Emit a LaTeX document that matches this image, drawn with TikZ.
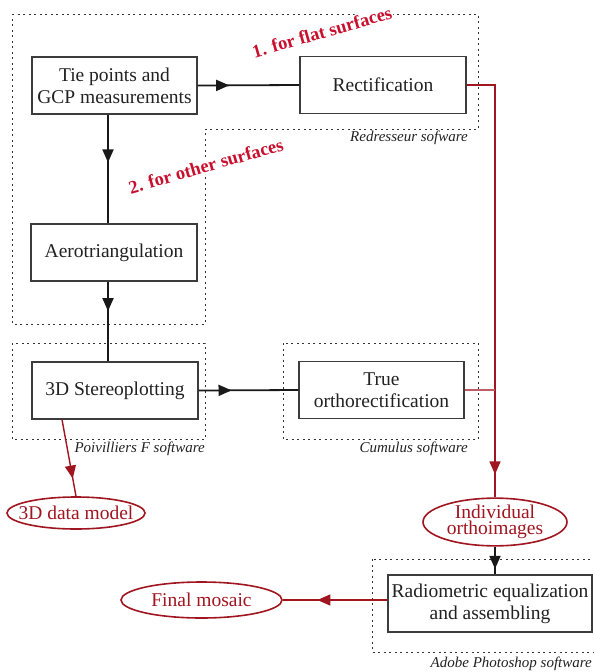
\documentclass[tikz,border=0pt]{standalone}
\usepackage{fontspec}
\setmainfont{Liberation Serif}
\usetikzlibrary{arrows.meta,decorations.markings,shapes.geometric}
\definecolor{dred}{RGB}{160,22,32}
\definecolor{lred}{RGB}{200,16,46}
\definecolor{txt}{RGB}{34,34,34}
\definecolor{bdr}{RGB}{60,60,60}
\begin{document}
\begin{tikzpicture}[x=1pt,y=-1pt,
  proc/.style={draw=bdr,line width=1.1pt,fill=white,text=txt,align=center,inner sep=0pt,
    font=\fontsize{19.5}{22}\selectfont},
  oval/.style={ellipse,draw=dred,line width=1.6pt,fill=white,text=dred,align=center,inner sep=0pt,
    font=\fontsize{19.5}{16}\selectfont},
  dotbox/.style={draw=black!80,line width=0.8pt,dash pattern=on 2pt off 3.5pt},
  swlabel/.style={font=\fontsize{15}{17}\selectfont\itshape,text=txt,inner sep=0pt},
  steplabel/.style={font=\fontsize{18.5}{20}\selectfont\bfseries,text=lred,fill=white,inner sep=1pt,rotate=16},
  blk/.style={line width=1.8pt,draw=black!90},
  redl/.style={line width=1.4pt,draw=dred},
  midarr/.style={postaction={decorate},decoration={markings,
    mark=at position #1 with {\arrow{Triangle[length=13pt,width=11pt]}}}}
]
\useasboundingbox (0,0) rectangle (594,672);
% dotted software boxes
\draw[dotbox] (12,14) -- (478,14) -- (478,129) -- (205,129) -- (205,324) -- (12,324) -- cycle;
\draw[dotbox] (12,343) rectangle (205,439);
\draw[dotbox] (283,343) rectangle (478,439);
\draw[dotbox] (372,559) rectangle (597,652);
% software labels
\node[swlabel,anchor=east] (lredr) at (468,138) {Redresseur sofware};
\node[swlabel,anchor=east] (lpoiv) at (205,449) {Poivilliers F software};
\node[swlabel,anchor=east] (lcumu) at (468,449) {Cumulus software};
\node[swlabel,anchor=east] (ladob) at (592,664) {Adobe Photoshop software};
% step labels
\node[steplabel] (s1) at (322,32) {1. for flat surfaces};
\node[steplabel] (s2) at (206,166) {2. for other surfaces};
% process boxes
\node[proc,minimum width=165pt,minimum height=57pt] (tie) at (114.5,85.5) {Tie points and\\GCP measurements};
\node[proc,minimum width=166pt,minimum height=57pt] (rect) at (383,85) {Rectification};
\node[proc,minimum width=166pt,minimum height=57pt] (aero) at (114,252.5) {Aerotriangulation};
\node[proc,minimum width=166pt,minimum height=57pt] (stereo) at (115,390.5) {3D Stereoplotting};
\node[proc,minimum width=165pt,minimum height=57pt] (true) at (381.5,390) {True\\orthorectification};
\node[proc,minimum width=204pt,minimum height=57pt] (radio) at (490,603.5) {Radiometric equalization\\and assembling};
% ovals
\node[oval,inner xsep=-9pt,minimum width=138pt,minimum height=32pt] (model) at (76,513) {3D data model};
\node[oval,inner xsep=-2pt,minimum width=144pt,minimum height=41pt] (indiv) at (495,522) {Individual\\orthoimages};
\node[oval,minimum width=161pt,minimum height=36pt] (final) at (201.5,600) {Final mosaic};
% helper coordinates
\coordinate (spine) at (108,0);
\coordinate (mleg) at (62,0);
\coordinate (join) at (true.east -| indiv.north);
% connectors
\draw[blk,midarr=0.31] (tie.east) -- (rect.west);
\draw[blk,midarr=0.44] (tie.south -| spine) -- (aero.north -| spine);
\draw[blk,midarr=0.37] (aero.south -| spine) -- (stereo.north -| spine);
\draw[blk,midarr=0.33] (stereo.east) -- (true.west);
\draw[redl,midarr=0.948] (rect.east) -| (indiv.north);
\draw[redl,line width=1.1pt,draw=dred!70] (true.east) -- (join);
\draw[redl,midarr=0.77] (stereo.south -| mleg) -- (model.north);
\draw[blk,midarr=0.8] (indiv.south) -- (radio.north -| indiv.south);
\draw[redl,midarr=0.67] (radio.west |- final.east) -- (final.east);
\end{tikzpicture}
\end{document}
